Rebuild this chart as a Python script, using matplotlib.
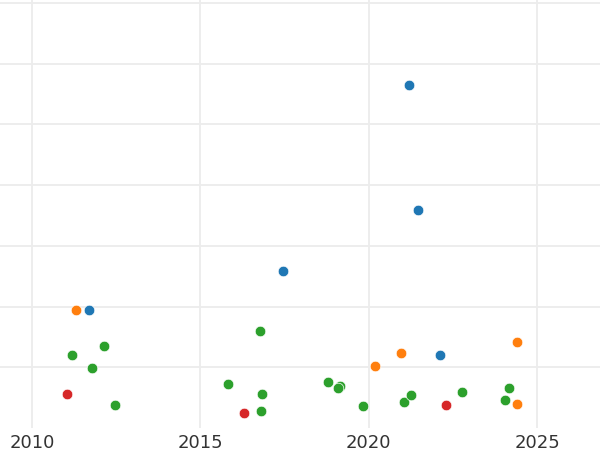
import matplotlib
matplotlib.use("Agg")
import matplotlib.pyplot as plt

# values (y has no labels, arbitrary units)
blue_x = [2021.20, 2021.46, 2017.45, 2011.69, 2022.12]
blue_y = [56.5, 35.9, 25.8, 19.4, 12.1]

orange_x = [2011.31, 2020.96, 2020.19, 2024.40, 2024.40]
orange_y = [19.4, 12.3, 10.2, 14.1, 3.9]

green_x = [2011.19, 2012.14, 2011.78, 2012.47, 2016.77, 2015.82, 2016.83, 2016.80,
           2018.79, 2019.15, 2019.09, 2019.83, 2021.05, 2021.26, 2022.77, 2024.17, 2024.05]
green_y = [12.0, 13.5, 9.8, 3.7, 15.9, 7.2, 5.55, 2.75,
           7.5, 6.9, 6.5, 3.6, 4.2, 5.4, 5.9, 6.5, 4.6]

red_x = [2011.04, 2016.30, 2022.30]
red_y = [5.55, 2.4, 3.7]

x_ticks = [2010, 2015, 2020, 2025]
y_ticks = [10, 20, 30, 40, 50, 60, 70]

fig = plt.figure(figsize=(6, 4.5), dpi=100)
ax = fig.add_axes([0, 0.049, 1, 0.951])

for xs, ys, c in [(blue_x, blue_y, '#1f77b4'), (orange_x, orange_y, '#ff7f0e'),
                  (green_x, green_y, '#2ca02c'), (red_x, red_y, '#d62728')]:
    ax.scatter(xs, ys, s=58, color=c, edgecolors='white', linewidths=0.5, zorder=3)

ax.set_xlim(2009.05, 2026.87)
ax.set_ylim(0, 70.5)
ax.set_xticks(x_ticks)
ax.set_xticklabels([str(t) for t in x_ticks], fontsize=13, color='#333333')
ax.set_yticks(y_ticks)
ax.set_yticklabels([])
ax.tick_params(length=0, pad=4)
ax.grid(True, color='#ececec', linewidth=1.3)
ax.set_axisbelow(True)
for s in ax.spines.values():
    s.set_visible(False)

fig.savefig("out.png", dpi=100)
